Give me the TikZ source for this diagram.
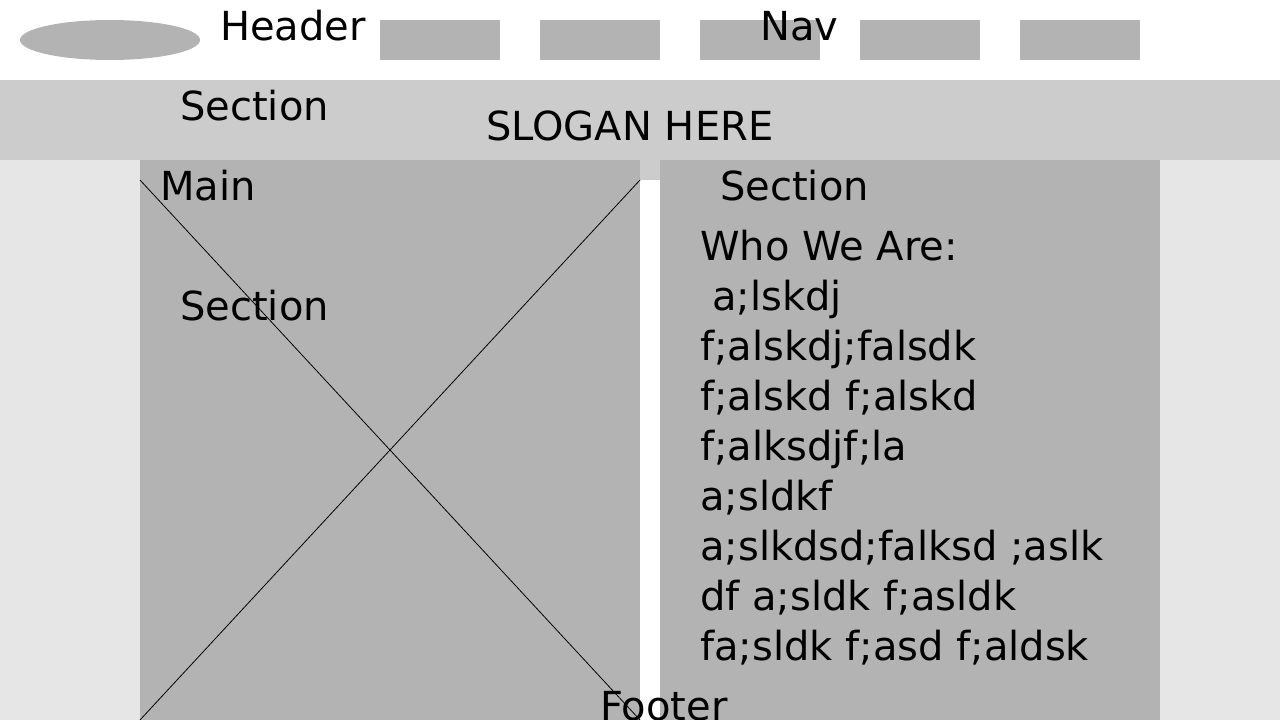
\documentclass[tikz,border=0pt]{standalone}
\usepackage{fontspec}
\setmainfont{DejaVu Sans}
\usetikzlibrary{positioning}
\definecolor{boxgray}{HTML}{B3B3B3}
\definecolor{bandgray}{HTML}{CCCCCC}
\definecolor{pagegray}{HTML}{E6E6E6}

\begin{document}
\begin{tikzpicture}[x=1pt, y=-1pt,
  lbl/.style={anchor=base west, inner sep=0pt, font=\fontsize{40}{50}\selectfont}]
  \useasboundingbox[fill=white] (0,0) rectangle (1280,720);
  % page background and blocks
  \fill[pagegray] (0,160) rectangle (1280,720);
  \fill[bandgray] (0,80) rectangle (1280,160);
  \fill[bandgray] (640,160) rectangle (660,180);
  \fill[white] (640,180) rectangle (660,720);
  \fill[boxgray] (140,160) rectangle (640,720);
  \fill[boxgray] (660,160) rectangle (1160,720);
  % logo and nav
  \fill[boxgray] (110,40) ellipse (90 and 20);
  \foreach \x in {380,540,700,860,1020}
    \fill[boxgray] (\x,20) rectangle ++(120,40);

  % image placeholder
  \coordinate (TL) at (140,180);
  \coordinate (TR) at (640,180);
  \coordinate (BL) at (140,720);
  \coordinate (BR) at (640,720);
  \draw[line width=0.8pt] (TL) -- (BR);
  \draw[line width=0.8pt] (TR) -- (BL);

  \node[lbl] (header)  at (220,40)  {Header};
  \node[lbl] (nav)     at (760,40)  {Nav};
  \node[lbl] (secA)    at (180,120) {Section};
  \node[lbl] (slogan)  at (486,140) {SLOGAN HERE};
  \node[lbl] (main)    at (160,200) {Main};
  \node[lbl] (secB)    at (720,200) {Section};
  \node[lbl] (secC)    at (180,320) {Section};
  \node[lbl] (who)     at (700,260) {Who We Are:};
  \node[lbl] (line1)   at (712,310) {a;lskdj};
  \node[lbl] (line2)   at (700,360) {f;alskdj;falsdk};
  \node[lbl] (line3)   at (700,410) {f;alskd f;alskd};
  \node[lbl] (line4)   at (700,460) {f;alksdjf;la};
  \node[lbl] (line5)   at (700,510) {a;sldkf};
  \node[lbl] (line6)   at (700,560) {a;slkdsd;falksd ;aslk};
  \node[lbl] (line7)   at (700,610) {df a;sldk f;asldk};
  \node[lbl] (line8)   at (700,660) {fa;sldk f;asd f;aldsk};
  \node[lbl] (footer)  at (600,720) {Footer};
\end{tikzpicture}
\end{document}
